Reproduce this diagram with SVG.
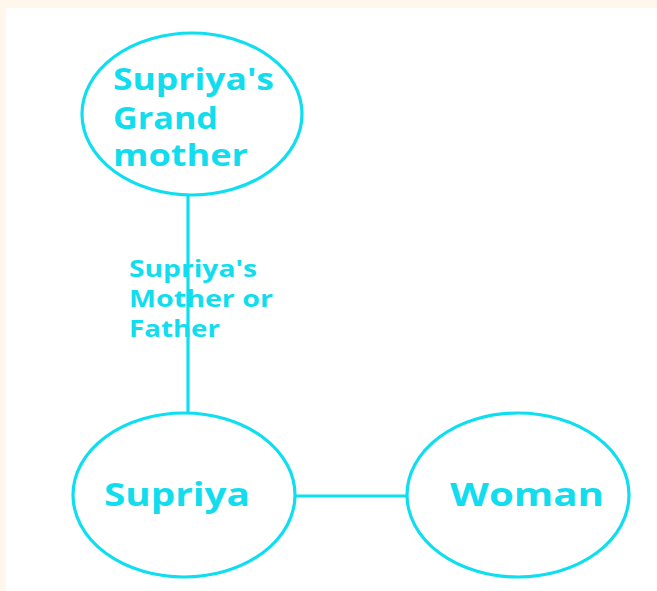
<svg xmlns="http://www.w3.org/2000/svg" width="657" height="591" viewBox="0 0 657 591">
  <style>
    .node { fill: none; stroke: #0EDEF0; stroke-width: 3.2; }
    .edge { stroke: #0EDEF0; stroke-width: 3.2; fill: none; }
    .label { fill: #12DDEE; font-family: "Open Sans", "Liberation Sans", sans-serif; font-weight: bold; }
  </style>
  <!-- page background with cream margin -->
  <rect x="0" y="0" width="657" height="591" fill="#FFF7EC"/>
  <rect x="6" y="8" width="651" height="583" fill="#FFFFFF"/>

  <g id="connectors">
    <line class="edge" x1="188" y1="195" x2="188" y2="413"/>
    <line class="edge" x1="296" y1="496" x2="408" y2="496"/>
  </g>

  <g id="edge-label">
    <text class="label" font-size="22.5">
      <tspan x="129" y="277" textLength="128" lengthAdjust="spacingAndGlyphs">Supriya's</tspan>
      <tspan x="129" y="307" textLength="144" lengthAdjust="spacingAndGlyphs">Mother or</tspan>
      <tspan x="129" y="337" textLength="91" lengthAdjust="spacingAndGlyphs">Father</tspan>
    </text>
  </g>

  <g id="grandmother">
    <ellipse class="node" cx="192" cy="114" rx="110" ry="81"/>
    <text class="label" font-size="30.5">
      <tspan x="113" y="90" textLength="161" lengthAdjust="spacingAndGlyphs">Supriya's</tspan>
      <tspan x="113" y="129" textLength="105" lengthAdjust="spacingAndGlyphs">Grand</tspan>
      <tspan x="113" y="166" textLength="135" lengthAdjust="spacingAndGlyphs">mother</tspan>
    </text>
  </g>

  <g id="supriya">
    <ellipse class="node" cx="184" cy="495" rx="111" ry="82"/>
    <text class="label" font-size="32.5" x="104" y="506" textLength="146" lengthAdjust="spacingAndGlyphs">Supriya</text>
  </g>

  <g id="woman">
    <ellipse class="node" cx="518" cy="495" rx="111" ry="82"/>
    <text class="label" font-size="32.5" x="450" y="506" textLength="154" lengthAdjust="spacingAndGlyphs">Woman</text>
  </g>
</svg>
